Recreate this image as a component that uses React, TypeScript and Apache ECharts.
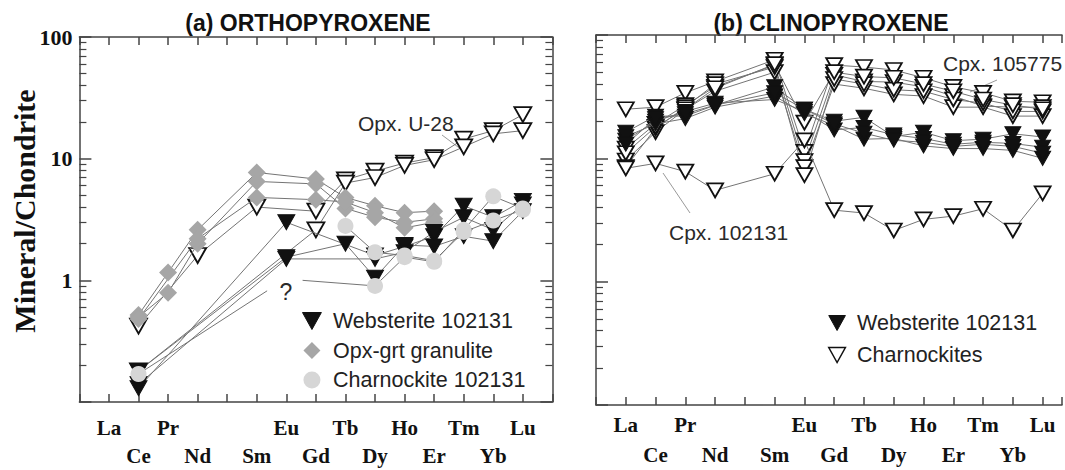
import React, { useEffect, useRef } from 'react';
import * as echarts from 'echarts';

// Rare earth elements (x positions); Pm has no label and no data
const REE = ['La', 'Ce', 'Pr', 'Nd', 'Pm', 'Sm', 'Eu', 'Gd', 'Tb', 'Dy', 'Ho', 'Er', 'Tm', 'Yb', 'Lu'];
const HIDDEN_LABEL = 'Pm';
const DECADES = [-1, 0, 1];
const MINOR_FACTORS = [2, 3, 4, 5, 6, 7, 8, 9];

// (a) Orthopyroxene — values per REE (null = not analysed)
const opxU28a = [null, 0.42, null, 1.6, null, 4.0, null, 3.7, 6.7, 7.9, 9.2, 10.2, 14.5, 17, 23];
const opxU28b = [null, 0.18, null, null, null, null, null, 2.6, 6.3, 7.0, 8.8, 9.8, 12.5, 16, 17];
const opxGran1 = [null, 0.52, 1.16, 2.6, null, 7.7, null, 6.8, 4.8, 4.1, 3.6, 3.7, null, null, null];
const opxGran2 = [null, 0.5, 0.79, 2.0, null, 6.5, null, 6.2, 3.9, 3.3, 3.0, 3.2, null, null, null];
const opxGran3 = [null, 0.48, null, 2.2, null, 4.8, null, 4.6, 4.4, 3.6, 2.7, 3.0, null, null, null];
const opxWeb1 = [null, 0.13, null, null, null, null, 3.0, null, null, 1.6, 1.9, 2.3, 4.1, 3.3, 4.5];
const opxWeb2 = [null, 0.18, null, null, null, null, 1.55, null, 2.0, 1.05, 1.95, 1.9, 2.3, 2.1, 3.7];
const opxWeb3 = [null, 0.14, null, null, null, null, 1.5, null, null, 1.5, 1.7, 2.5, 3.3, 2.6, 4.2];
const opxChar1 = [null, 0.17, null, null, null, null, null, null, null, 0.9, 1.55, 1.42, 2.6, 4.9, 3.9];
const opxChar2 = [null, null, null, null, null, null, null, null, 2.8, 1.7, 1.6, 1.45, 2.5, 3.1, 3.8];
// uncertain ("?") segment of Charnockite 102131: [REE position, value]
const opxQueryStart = [5.35, 0.82];
const opxQueryEnd = [6.55, 1.0];

// (b) Clinopyroxene
const cpxWeb1 = [16.3, 22, 22, 27, null, 38, 25, 20, 21.5, 15, 16.3, 13.9, 14.3, 15.8, 14.9];
const cpxWeb2 = [14, 20, 24, 28, null, 30, 24, 17, 17.8, 15.5, 14.5, 13, 13.5, 13.2, 12.3];
const cpxWeb3 = [15, 19, 21, 26, null, 32, 23, 18.5, 14.3, 14.5, 12.6, 12, 12, 11.6, 10];
const cpxWeb4 = [13, 21, 23, 27, null, 34, 25, 19, 16, 14, 13.5, 12.5, 13, 12.5, 11];
const cpxChar1 = [25, 26, 34, 42, null, 63, 11.3, 57, 55, 52, 45, 38, 34, 29, 28.5];
const cpxChar2 = [12, 19, 27, 38, null, 57, 9.5, 47.5, 42, 41.5, 38, 32, 26.5, 26, 26];
const cpxChar3 = [9.6, 16.3, 25, 35, null, 50, 8.5, 40, 37, 33, 32, 26, 26, 22, 22];
const cpxChar4 = [8.5, 17.5, 26, 40, null, 55, 7.3, 44, 40, 36, 35, 30, 28, 24, 24];
const cpxChar5 = [11, 18, 25, 37, null, 58, 19.5, 50, 46, 45, 40, 35, 30, 27, 25];
const cpx102131 = [8.3, 9.1, 7.8, 5.5, null, 7.5, 14, 3.8, 3.6, 2.6, 3.2, 3.4, 3.9, 2.6, 5.2];

const TRI = 'path://M0,0L10,0L5,9Z';
const DIAMOND = 'path://M5,0L10,5L5,10L0,5Z';
const CIRCLE = 'path://M5,0A5,5,0,1,1,5,10A5,5,0,1,1,5,0Z';
const SERIF = "'Liberation Serif', 'Times New Roman', serif";
const SANS = "'Liberation Sans', Arial, sans-serif";
const LINE = { color: '#747474', width: 1 };

const toPairs = (vals: (number | null)[]) =>
  vals.map((v, i) => (v == null ? null : [i, v])).filter((p) => p !== null) as number[][];

const minorTicks = DECADES.flatMap((d) => MINOR_FACTORS.map((k) => d + Math.log10(k)));

type Kind = 'web' | 'gran' | 'char' | 'open';
const markerStyle = (kind: Kind, grid: number) => {
  const tri = grid === 0 ? [17, 15] : [16, 14];
  switch (kind) {
    case 'web':
      return { symbol: TRI, symbolSize: tri, itemStyle: { color: '#111', borderColor: '#111', borderWidth: 1 } };
    case 'gran':
      return { symbol: 'diamond', symbolSize: 18, itemStyle: { color: '#a6a6a6', borderWidth: 0 } };
    case 'char':
      return { symbol: 'circle', symbolSize: 16, itemStyle: { color: '#d6d6d6', borderWidth: 0 } };
    default:
      return { symbol: TRI, symbolSize: tri, itemStyle: { color: '#fff', borderColor: '#111', borderWidth: 1.8 } };
  }
};

const mk = (name: string, data: any[], kind: Kind, grid: number, z: number) => ({
  type: 'line',
  name,
  data,
  xAxisIndex: grid === 0 ? 0 : 2,
  yAxisIndex: grid === 0 ? 0 : 4,
  ...markerStyle(kind, grid),
  symbolKeepAspect: false,
  lineStyle: LINE,
  silent: true,
  emphasis: { disabled: true },
  z,
});

const xLabel = (v: number) => {
  const i = Math.round(v);
  if (Math.abs(v - i) > 1e-6 || i < 0 || i >= REE.length || REE[i] === HIDDEN_LABEL) return '';
  return (i % 2 === 1 ? '\n' : '') + REE[i];
};

const xAxes = (grid: number, max: number, lineHeight: number, margin: number) => {
  const base = {
    type: 'value',
    gridIndex: grid,
    min: -1,
    max,
    interval: 1,
    splitLine: { show: false },
    axisLine: { show: true, onZero: false, lineStyle: { color: '#444', width: 1.5 } },
    axisTick: { show: true, inside: true, length: 8, lineStyle: { color: '#444', width: 1.5 } },
  };
  return [
    {
      ...base,
      position: 'bottom',
      axisLabel: {
        show: true,
        formatter: xLabel,
        margin,
        fontFamily: SERIF,
        fontWeight: 'bold',
        fontSize: 21,
        lineHeight,
        color: '#111',
      },
    },
    { ...base, position: 'top', axisLabel: { show: false } },
  ];
};

const logAxis = (grid: number, position: string, labels: boolean) => ({
  type: 'log',
  logBase: 10,
  gridIndex: grid,
  position,
  min: 0.1,
  max: 100,
  splitLine: { show: false },
  axisLine: { show: true, onZero: false, lineStyle: { color: '#444', width: 1.5 } },
  axisTick: { show: true, inside: true, length: 12, lineStyle: { color: '#444', width: 1.5 } },
  axisLabel: {
    show: labels,
    margin: 7,
    fontFamily: SERIF,
    fontWeight: 'bold',
    fontSize: 22,
    color: '#111',
    formatter: (v: number) => (v >= 0.99 ? String(Math.round(v)) : ''),
  },
});

const minorAxis = (grid: number, position: string) => ({
  type: 'value',
  gridIndex: grid,
  position,
  min: -1,
  max: 2,
  splitLine: { show: false },
  axisLine: { show: false, onZero: false },
  axisLabel: { show: false },
  axisTick: { show: true, inside: true, length: 7, customValues: minorTicks, lineStyle: { color: '#444', width: 1.2 } },
});

const txt = (text: string, x: number, y: number, fontSize: number, opts: any = {}) => ({
  type: 'text',
  x,
  y,
  silent: true,
  rotation: opts.rotation || 0,
  style: {
    text,
    fontSize,
    fontFamily: opts.fontFamily || SANS,
    fontWeight: opts.fontWeight || 'normal',
    fill: opts.fill || '#2a2a2a',
    align: opts.align || 'left',
    verticalAlign: 'middle',
    textAlign: opts.align || 'left',
    textVerticalAlign: 'middle',
  },
});

const leader = (x1: number, y1: number, x2: number, y2: number) => ({
  type: 'line',
  silent: true,
  shape: { x1, y1, x2, y2 },
  style: { stroke: '#9a9a9a', lineWidth: 1 },
});

export default function App() {
  const ref = useRef<HTMLDivElement>(null);
  useEffect(() => {
    if (!ref.current) return;
    const chart = echarts.init(ref.current, undefined, { renderer: 'svg' });

    const opxCharData: any[] = [
      [1, opxChar1[1]],
      { value: opxQueryStart, symbol: 'none' },
      '-',
      { value: opxQueryEnd, symbol: 'none' },
      ...toPairs(opxChar1).filter((p) => p[0] > 1),
    ];

    const series = [
      mk('Opx. U-28', toPairs(opxU28a), 'open', 0, 2),
      mk('Opx. U-28', toPairs(opxU28b), 'open', 0, 2),
      mk('Opx-grt granulite', toPairs(opxGran1), 'gran', 0, 3),
      mk('Opx-grt granulite', toPairs(opxGran2), 'gran', 0, 3),
      mk('Opx-grt granulite', toPairs(opxGran3), 'gran', 0, 3),
      mk('Websterite 102131', toPairs(opxWeb1), 'web', 0, 4),
      mk('Websterite 102131', toPairs(opxWeb2), 'web', 0, 4),
      mk('Websterite 102131', toPairs(opxWeb3), 'web', 0, 4),
      { ...mk('Charnockite 102131', opxCharData, 'char', 0, 5), connectNulls: false },
      mk('Charnockite 102131', toPairs(opxChar2), 'char', 0, 5),
      mk('Charnockites', toPairs(cpxChar1), 'open', 1, 2),
      mk('Charnockites', toPairs(cpxChar2), 'open', 1, 2),
      mk('Charnockites', toPairs(cpxChar3), 'open', 1, 2),
      mk('Charnockites', toPairs(cpxChar4), 'open', 1, 2),
      mk('Charnockites', toPairs(cpxChar5), 'open', 1, 2),
      mk('Websterite 102131', toPairs(cpxWeb1), 'web', 1, 3),
      mk('Websterite 102131', toPairs(cpxWeb2), 'web', 1, 3),
      mk('Websterite 102131', toPairs(cpxWeb3), 'web', 1, 3),
      mk('Websterite 102131', toPairs(cpxWeb4), 'web', 1, 3),
      mk('Charnockites', toPairs(cpx102131), 'open', 1, 4),
    ];

    const legendText = { fontSize: 21.5, fontFamily: SANS, color: '#222', lineHeight: 20 };

    chart.setOption({
      animation: false,
      backgroundColor: '#fff',
      grid: [
        { left: 79.4, top: 37, width: 473, height: 367 },
        { left: 596, top: 35, width: 470, height: 374 },
      ],
      xAxis: [...xAxes(0, 15, 28, 12), ...xAxes(1, 14.65, 30, 5)],
      yAxis: [
        logAxis(0, 'left', true),
        minorAxis(0, 'left'),
        logAxis(0, 'right', false),
        minorAxis(0, 'right'),
        logAxis(1, 'left', false),
        minorAxis(1, 'left'),
      ],
      legend: [
        {
          orient: 'vertical',
          left: 302,
          top: 310,
          padding: 0,
          itemWidth: 32,
          itemHeight: 17,
          itemGap: 7.5,
          selectedMode: false,
          symbolKeepAspect: true,
          textStyle: legendText,
          data: [
            { name: 'Websterite 102131', icon: TRI, itemStyle: { color: '#111', borderColor: '#111', borderWidth: 1 } },
            { name: 'Opx-grt granulite', icon: DIAMOND, itemStyle: { color: '#a6a6a6', borderWidth: 0 } },
            { name: 'Charnockite 102131', icon: CIRCLE, itemStyle: { color: '#d6d6d6', borderWidth: 0 } },
          ],
        },
        {
          orient: 'vertical',
          left: 828,
          top: 312,
          padding: 0,
          itemWidth: 30,
          itemHeight: 15,
          itemGap: 10,
          selectedMode: false,
          symbolKeepAspect: true,
          textStyle: legendText,
          data: [
            { name: 'Websterite 102131', icon: TRI, itemStyle: { color: '#111', borderColor: '#111', borderWidth: 1 } },
            { name: 'Charnockites', icon: TRI, itemStyle: { color: '#fff', borderColor: '#111', borderWidth: 1.5 } },
          ],
        },
      ],
      graphic: [
        txt('(a) ORTHOPYROXENE', 308, 23, 23, { fontWeight: 'bold', align: 'center', fill: '#111' }),
        txt('(b) CLINOPYROXENE', 831, 23, 23, { fontWeight: 'bold', align: 'center', fill: '#111' }),
        txt('Mineral/Chondrite', 24, 211, 30, {
          fontFamily: SERIF,
          fontWeight: 'bold',
          align: 'center',
          rotation: Math.PI / 2,
          fill: '#111',
        }),
        txt('Opx. U-28', 358, 123, 21),
        txt('?', 286, 292, 23, { align: 'center' }),
        txt('Cpx. 102131', 669, 232, 21),
        txt('Cpx. 105775', 943, 63, 21),
        leader(442, 135, 462, 150),
        leader(663, 173, 690, 213),
        leader(997, 80, 970, 92),
      ],
      series,
    });
    return () => chart.dispose();
  }, []);
  return <div ref={ref} style={{ position: 'absolute', left: 0, top: 0, width: 1065, height: 470 }} />;
}
